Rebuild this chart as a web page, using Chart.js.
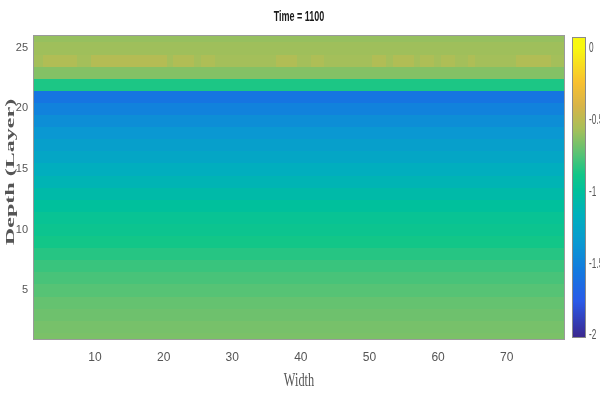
<!DOCTYPE html>
<html>
<head>
<meta charset="utf-8">
<script src="https://cdn.jsdelivr.net/npm/chart.js@4/dist/chart.umd.min.js"></script>
<style>
  html, body { margin: 0; padding: 0; background: #fff; }
  #wrap { width: 600px; height: 415px; }
</style>
</head>
<body>
<div id="wrap"><canvas id="c"></canvas></div>
<script>
// ---- labels ----
const titleText = 'Time = 1100';
const widthLabel = 'Width';
const depthLabel = 'Depth (Layer)';

// ---- grid ----
const columns = Array.from({ length: 78 }, (_, i) => i + 1);   // width positions 1..78
const layers  = Array.from({ length: 26 }, (_, i) => i + 1);   // depth layers 1..26

// value of each layer (bottom layer first), same along the width
const layerLevel = [
  -0.66, -0.67, -0.69, -0.71, -0.74, -0.77, -0.80, -0.84, -0.88, -0.92,
  -0.95, -1.00, -1.06, -1.12, -1.18, -1.24, -1.30, -1.36, -1.42, -1.50,
  -1.58, -0.86, -0.64, -0.57, -0.58, -0.60
];

// layer 24 has warmer patches along the width
const layer24 = [
  -0.57, -0.57, -0.53, -0.53, -0.53, -0.53, -0.53, -0.57, -0.57, -0.52,
  -0.52, -0.52, -0.52, -0.52, -0.52, -0.52, -0.52, -0.52, -0.52, -0.52,
  -0.57, -0.53, -0.53, -0.53, -0.57, -0.54, -0.54, -0.57, -0.57, -0.57,
  -0.57, -0.57, -0.57, -0.57, -0.57, -0.57, -0.53, -0.53, -0.53, -0.57,
  -0.57, -0.54, -0.54, -0.57, -0.57, -0.57, -0.57, -0.57, -0.57, -0.57,
  -0.53, -0.53, -0.57, -0.53, -0.53, -0.53, -0.57, -0.54, -0.54, -0.57,
  -0.54, -0.54, -0.57, -0.57, -0.54, -0.57, -0.57, -0.57, -0.57, -0.57,
  -0.57, -0.53, -0.53, -0.53, -0.53, -0.53, -0.57, -0.57
];

// ---- ticks ----
const xTicks  = [10, 20, 30, 40, 50, 60, 70];
const yTicks  = [5, 10, 15, 20, 25];
const cbTicks = [-2, -1.5, -1, -0.5, 0];
const colourLimits = [-2, 0];

// parula-like colour map
const mapStops = [
  [0.00, '#3b2a92'], [0.12, '#2a5ae8'], [0.22, '#1478e0'], [0.32, '#0a98d2'],
  [0.42, '#00b0bc'], [0.50, '#00c09c'], [0.56, '#12c688'], [0.64, '#60c272'],
  [0.72, '#a8bf58'], [0.80, '#d8b448'], [0.88, '#f8c030'], [1.00, '#f8f810']
];
const hex = h => [1, 3, 5].map(i => parseInt(h.slice(i, i + 2), 16));
function colourOf(v) {
  let t = (v - colourLimits[0]) / (colourLimits[1] - colourLimits[0]);
  t = Math.max(0, Math.min(1, t));
  for (let i = 1; i < mapStops.length; i++) {
    if (t <= mapStops[i][0]) {
      const [t0, c0] = mapStops[i - 1], [t1, c1] = mapStops[i];
      const f = (t - t0) / (t1 - t0), a = hex(c0), b = hex(c1);
      return `rgb(${a.map((x, k) => Math.round(x + (b[k] - x) * f)).join(',')})`;
    }
  }
  return mapStops[mapStops.length - 1][1];
}

const cells = [];
layers.forEach((r, ri) => {
  columns.forEach((c, ci) => {
    cells.push({ x: c, y: r, v: r === 24 ? layer24[ci] : layerLevel[ri] });
  });
});

const xTickFont = { family: '"Liberation Sans Narrow", "Liberation Sans", Arial', size: 12 };
const yTickFont = { family: '"Liberation Sans Narrow", "Liberation Sans", Arial', size: 11 };

// draw a string squeezed or stretched about its centre
function stretchedText(ctx, text, x, y, font, colour, sx, sy, rot) {
  ctx.save();
  ctx.fillStyle = colour;
  ctx.font = font;
  ctx.textAlign = 'center';
  ctx.textBaseline = 'middle';
  ctx.translate(x, y);
  if (rot) ctx.rotate(rot);
  ctx.scale(sx, sy);
  ctx.fillText(text, 0, 0);
  ctx.restore();
}

const heatmap = {
  id: 'heatmap',
  beforeDatasetsDraw(chart) {
    const { ctx, chartArea: a, scales: { x, y } } = chart;
    ctx.save();
    ctx.beginPath();
    ctx.rect(a.left, a.top, a.width, a.height);
    ctx.clip();
    chart.data.datasets[0].data.forEach(p => {
      const x0 = Math.floor(x.getPixelForValue(p.x - 0.5));
      const x1 = Math.ceil(x.getPixelForValue(p.x + 0.5));
      const y0 = Math.floor(y.getPixelForValue(p.y + 0.5));
      const y1 = Math.ceil(y.getPixelForValue(p.y - 0.5));
      ctx.fillStyle = colourOf(p.v);
      ctx.fillRect(x0, y0, x1 - x0, y1 - y0);
    });
    ctx.restore();
    ctx.save();
    ctx.strokeStyle = '#9a9a9a';
    ctx.lineWidth = 1;
    ctx.strokeRect(a.left + 0.5, a.top + 0.5, a.width - 1, a.height - 1);
    ctx.restore();
  },
  afterDraw(chart) {
    const { ctx, chartArea: a, scales: { cb } } = chart;
    // colour bar
    const bx = cb.left + 7, bw = 14;
    const top = a.top + 2, bottom = a.bottom - 2;
    for (let py = top; py < bottom; py++) {
      ctx.fillStyle = colourOf(cb.getValueForPixel(py + 0.5));
      ctx.fillRect(bx, py, bw, 1);
    }
    ctx.save();
    ctx.strokeStyle = '#8a8a8a';
    ctx.strokeRect(bx + 0.5, top + 0.5, bw - 1, bottom - top - 1);
    ctx.restore();

    // colour bar tick labels
    const cbFont = '11px "Liberation Sans Narrow", "Liberation Sans", Arial';
    cbTicks.forEach(v => {
      const label = String(v);
      ctx.save();
      ctx.font = cbFont;
      const w = ctx.measureText(label).width * 0.75;
      ctx.restore();
      stretchedText(ctx, label, bx + bw + 3 + w / 2, cb.getPixelForValue(v), cbFont, '#555', 0.75, 1.25);
    });

    // title
    stretchedText(ctx, titleText, (a.left + a.right) / 2, 17,
      'bold 11px "Liberation Sans Narrow", "Liberation Sans", Arial', '#1a1a1a', 0.82, 1.35);

    // x axis title
    stretchedText(ctx, widthLabel, (a.left + a.right) / 2, 381,
      '15px "Liberation Serif", "Times New Roman", serif', '#555', 0.82, 1.3);

    // y axis title
    stretchedText(ctx, depthLabel, 11, 172,
      'bold 13px "Liberation Serif", "Times New Roman", serif', '#555', 1.85, 1, -Math.PI / 2);
  }
};

new Chart(document.getElementById('c'), {
  type: 'scatter',
  data: { datasets: [{ data: cells, pointRadius: 0, pointHoverRadius: 0 }] },
  options: {
    responsive: true,
    maintainAspectRatio: false,
    animation: false,
    events: [],
    layout: { padding: { top: 35, left: 0, right: 0, bottom: 0 } },
    plugins: { legend: { display: false }, tooltip: { enabled: false }, title: { display: false } },
    scales: {
      x: {
        type: 'linear', min: 0.96, max: 78.5,
        afterBuildTicks: s => { s.ticks = xTicks.map(v => ({ value: v })); },
        afterFit: s => { s.height = 75; },
        grid: { display: false, drawTicks: false },
        border: { display: false },
        ticks: { font: xTickFont, color: '#555', padding: 10, maxRotation: 0 }
      },
      y: {
        type: 'linear', min: 0.87, max: 26.07,
        afterBuildTicks: s => { s.ticks = yTicks.map(v => ({ value: v })); },
        afterFit: s => { s.width = 33; },
        grid: { display: false, drawTicks: false },
        border: { display: false },
        ticks: { font: yTickFont, color: '#555', padding: 5 }
      },
      cb: {
        type: 'linear', axis: 'y', position: 'right', min: -2.03, max: 0.09,
        afterBuildTicks: s => { s.ticks = cbTicks.map(v => ({ value: v })); },
        afterFit: s => { s.width = 35; },
        grid: { display: false, drawTicks: false },
        border: { display: false },
        ticks: { display: false }
      }
    }
  },
  plugins: [heatmap]
});
</script>
</body>
</html>
